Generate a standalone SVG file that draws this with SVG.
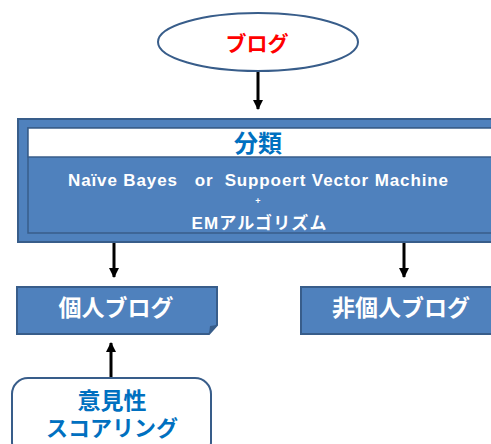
<svg xmlns="http://www.w3.org/2000/svg" width="491" height="444" viewBox="0 0 491 444">
<defs>
<marker id="ah" markerWidth="10" markerHeight="10" refX="9" refY="5" orient="auto" markerUnits="userSpaceOnUse">
<path d="M0,0 L10,5 L0,10 z" fill="#000"/>
</marker>
<style>
.jp{font-family:"Liberation Sans","Noto Sans CJK JP",sans-serif;font-weight:bold;text-anchor:middle}
.box{fill:#4F81BD;stroke:#385D8A;stroke-width:2}
.conn{stroke:#000;stroke-width:3;fill:none}
</style>
</defs>
<rect width="491" height="444" fill="#fff"/>
<g id="connectors">
<line class="conn" x1="258" y1="72" x2="258" y2="109" marker-end="url(#ah)"/>
<line class="conn" x1="114" y1="243" x2="114" y2="277" marker-end="url(#ah)"/>
<line class="conn" x1="404" y1="243" x2="404" y2="277" marker-end="url(#ah)"/>
<line class="conn" x1="111" y1="377" x2="111" y2="343" marker-end="url(#ah)"/>
</g>
<g id="blog">
<ellipse cx="258" cy="42" rx="100" ry="29" fill="#fff" stroke="#385D8A" stroke-width="2"/>
<text class="jp" x="257" y="51" font-size="21" fill="#FF0000">ブログ</text>
</g>
<g id="classify">
<rect class="box" x="18" y="119" width="490" height="123" stroke-width="3"/>
<rect x="28" y="128" width="480" height="105" fill="#4F81BD" stroke="#385D8A" stroke-width="1.5"/>
<rect x="28" y="128" width="480" height="29" fill="#fff" stroke="#385D8A" stroke-width="1.5"/>
<text class="jp" x="258" y="152" font-size="24" fill="#0070C0">分類</text>
<text class="jp" x="258" y="186" font-size="17" fill="#fff" textLength="380" lengthAdjust="spacing" xml:space="preserve">Naïve Bayes   or  Suppoert Vector Machine</text>
<text class="jp" x="258" y="204" font-size="9" fill="#fff">+</text>
<text class="jp" x="259" y="229" font-size="17" fill="#fff" textLength="135" lengthAdjust="spacing">EMアルゴリズム</text>
</g>
<g id="personal">
<path class="box" d="M17,287 H217 V325 L209,334 H17 Z"/>
<path d="M209,334 L210,326 L217,325 Z" fill="#385D8A"/>
<text class="jp" x="116" y="316" font-size="23" fill="#fff">個人ブログ</text>
</g>
<g id="nonpersonal">
<rect class="box" x="301" y="287" width="200" height="47"/>
<text class="jp" x="401" y="316" font-size="23" fill="#fff">非個人ブログ</text>
</g>
<g id="scoring">
<rect x="12" y="378" width="199" height="80" rx="16" fill="#fff" stroke="#385D8A" stroke-width="2"/>
<text class="jp" x="112" y="409" font-size="23" fill="#0070C0">意見性</text>
<text class="jp" x="112" y="436" font-size="22" fill="#0070C0">スコアリング</text>
</g>
</svg>
